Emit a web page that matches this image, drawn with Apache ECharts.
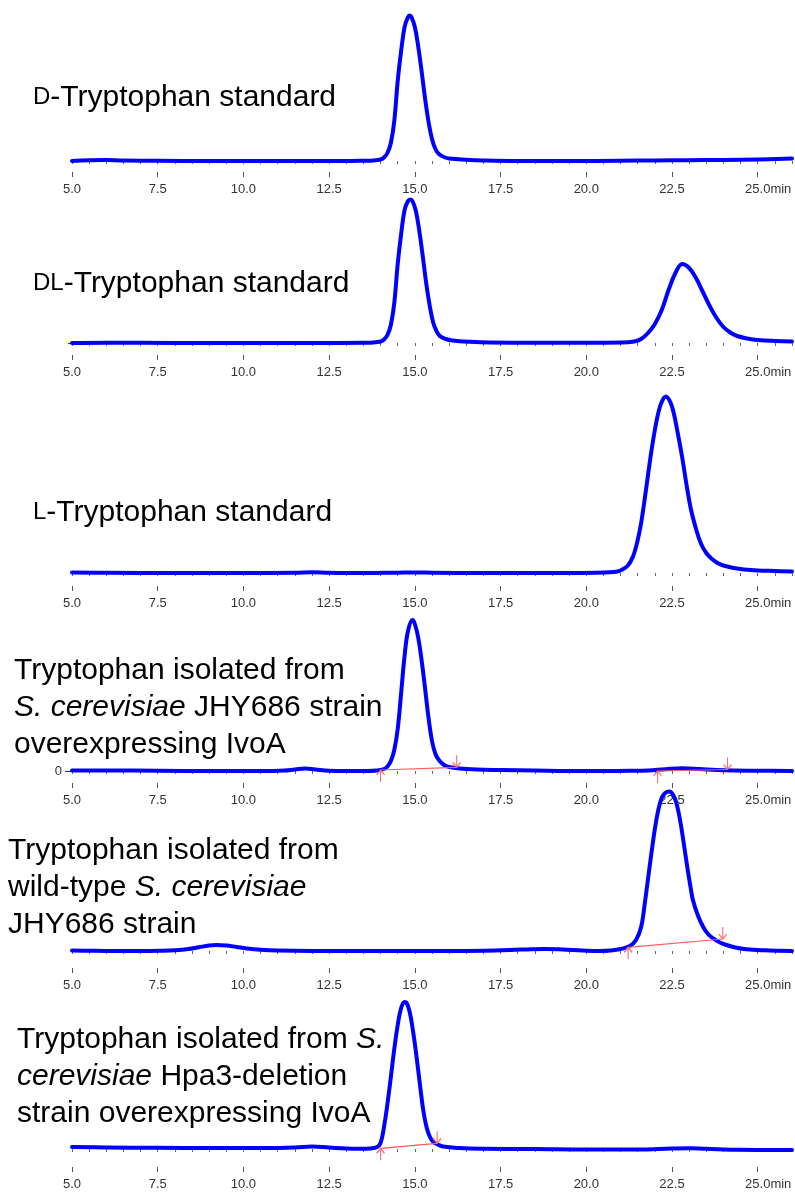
<!DOCTYPE html>
<html>
<head>
<meta charset="utf-8">
<script src="https://cdn.jsdelivr.net/npm/echarts@6/dist/echarts.min.js"></script>
<style>
html, body { margin: 0; padding: 0; background: #fff; }
#chart { width: 795px; height: 1192px; }
</style>
</head>
<body>
<div id="chart"></div>
<script>
// retention time (min) vs detector signal
var dStandard = [[5.0,0],[5.5,0.8],[6.0,1.0],[6.5,0.5],[7.5,0.3],[9.0,0],[10.5,0],[12.0,0],[13.0,0],[13.5,0.3],[13.8,0.6],[14.0,1.5],[14.1,3.5],[14.2,8],[14.3,18],[14.4,40],[14.5,80],[14.6,110],[14.7,134],[14.8,144],[14.85,145.5],[14.9,144],[15.0,134],[15.1,114],[15.2,89],[15.3,62],[15.4,39],[15.5,22],[15.6,12],[15.7,7],[15.85,4],[16.0,2.5],[16.5,1.2],[17.0,0.5],[18.0,0],[19.5,0],[21.0,0.3],[22.0,0.5],[23.0,0.8],[24.0,1.0],[25.0,1.5],[26.0,2.5]];
var dlStandard = [[5.0,0],[6.0,0.3],[8.0,0],[10.0,0],[12.0,0],[13.5,0.3],[13.8,0.6],[14.0,1.5],[14.1,3.5],[14.2,8],[14.3,18],[14.4,40],[14.5,79],[14.6,109],[14.7,133],[14.8,142],[14.87,143.5],[14.93,142],[15.03,132],[15.13,112],[15.23,87],[15.33,60],[15.43,38],[15.53,21],[15.63,12],[15.73,7],[15.9,4],[16.1,2.5],[16.6,1.2],[17.2,0.5],[18.5,0.3],[20.0,0.3],[21.0,0.5],[21.4,1.5],[21.6,4],[21.8,10],[22.0,19],[22.2,33],[22.4,53],[22.6,70],[22.8,79],[23.0,75],[23.2,65],[23.4,51],[23.6,37],[23.8,25],[24.0,16],[24.2,10.5],[24.4,7],[24.7,4.5],[25.0,3],[25.5,2],[26.0,1.5]];
var lStandard = [[5.0,0.5],[6.0,0.3],[8.0,0],[10.0,0],[11.5,0.3],[12.0,0.8],[12.5,0.3],[13.5,0],[14.5,0.3],[15.0,0.5],[15.5,0.3],[17.0,0],[18.5,0],[19.5,0],[20.3,0.3],[20.7,0.8],[20.9,1.5],[21.0,2.5],[21.1,4.5],[21.2,7],[21.3,12],[21.4,20],[21.5,33],[21.6,50],[21.7,73],[21.8,98],[21.9,122],[22.0,143],[22.1,160],[22.2,171],[22.32,176.5],[22.45,171],[22.55,160],[22.65,143],[22.8,115],[22.92,89],[23.05,64],[23.21,43],[23.35,29],[23.5,20],[23.65,14.5],[23.83,10],[24.0,7.5],[24.3,5],[24.6,3.5],[25.0,2.5],[25.5,2],[26.0,1.5]];
var ivoaStrain = [[5.0,0.5],[6.0,0.5],[7.5,0.3],[9.0,0],[10.5,0],[11.2,0.5],[11.5,1.5],[11.8,2.5],[12.1,1.5],[12.5,0.3],[13.0,0],[13.6,0],[13.9,0.5],[14.1,2],[14.2,4.5],[14.3,10],[14.4,21],[14.5,42],[14.6,78],[14.7,115],[14.8,140],[14.93,151],[15.0,147],[15.1,133],[15.2,110],[15.3,82],[15.4,53],[15.5,30],[15.6,17],[15.7,11],[15.85,6],[16.0,4],[16.3,2.5],[16.8,1.5],[17.5,1],[18.5,0.5],[19.5,0],[20.5,0],[21.3,0.2],[21.8,0.6],[22.3,1.8],[22.8,2.7],[23.3,2],[23.8,1],[24.3,0.5],[25.0,0.3],[26.0,0]];
var wildType = [[5.0,0.5],[5.5,0.3],[6.0,0],[7.0,0],[7.6,0.3],[8.0,0.8],[8.4,2],[8.7,3.8],[9.0,5.5],[9.2,6],[9.5,5.5],[9.8,4],[10.1,2.5],[10.5,1.2],[11.0,0.4],[12.0,0],[13.0,0],[14.0,0],[15.0,0],[16.0,0],[17.0,0.3],[17.8,1],[18.4,1.8],[18.8,2],[19.3,1.5],[19.9,0.5],[20.4,0],[20.7,0.5],[21.0,2],[21.27,5],[21.45,11],[21.6,24],[21.7,46],[21.8,72],[21.9,98],[22.0,122],[22.1,141],[22.2,153],[22.3,158],[22.42,159.5],[22.55,155],[22.65,145],[22.75,128],[22.85,106],[22.95,83],[23.05,62],[23.11,51],[23.25,36],[23.41,24],[23.55,17],[23.7,12.7],[23.9,8.5],[24.09,6],[24.35,3.5],[24.67,1.7],[25.2,0.7],[26.0,0]];
var hpa3Deletion = [[5.0,2],[6.0,1.5],[7.5,1.2],[9.0,1],[10.5,1],[11.5,1.5],[12.0,2.5],[12.5,1.5],[13.0,0.5],[13.4,0.3],[13.7,0.5],[13.9,2],[14.0,6],[14.1,22],[14.2,45],[14.3,72],[14.4,100],[14.5,124],[14.6,141],[14.7,147],[14.76,146],[14.85,137],[14.95,117],[15.05,92],[15.15,64],[15.24,40],[15.34,22],[15.44,12],[15.54,7],[15.67,4.5],[15.82,2.5],[16.3,1],[17.0,0.3],[18.5,0],[20.0,-0.5],[21.5,-0.5],[22.5,0.5],[23.0,0.8],[23.5,0.2],[24.5,-0.8],[26.0,-1]];

// integration baselines (start, end)
var ivoaCut1 = [[14.0,1],[16.22,3.7]];
var ivoaCut2 = [[22.08,0],[24.12,1.5]];
var wildCut = [[21.22,3.7],[23.98,12]];
var hpa3Cut = [[14.0,0.7],[15.65,5.7]];

var majorTicks = [5, 7.5, 10, 12.5, 15, 17.5, 20, 22.5, 25];
var panelTitles = [
  '{sc|D}-Tryptophan standard',
  '{sc|DL}-Tryptophan standard',
  '{sc|L}-Tryptophan standard',
  'Tryptophan isolated from\n{i|S. cerevisiae} JHY686 strain\noverexpressing IvoA',
  'Tryptophan isolated from\nwild-type {i|S. cerevisiae}\nJHY686 strain',
  'Tryptophan isolated from {i|S.}\n{i|cerevisiae} Hpa3-deletion\nstrain overexpressing IvoA'
];
var traces = [dStandard, dlStandard, lStandard, ivoaStrain, wildType, hpa3Deletion];
var cuts = [[], [], [], [ivoaCut1, ivoaCut2], [wildCut], [hpa3Cut]];

// layout in px
var baseY = [161, 343, 573, 771, 951, 1149];
var plotH = [151, 153, 183, 156, 166, 154];
var axisOffset = [11, 12, 13, 12, 17, 18];
var titlePos = [[33, 79], [33, 265], [33, 494], [14, 652], [8, 832], [17, 1021]];

var FONT = 'Liberation Sans, Arial, sans-serif';
var arrowUp = 'path://M4,0L0,5M4,0L8,5M4,0L4,12';
var arrowDown = 'path://M4,12L0,7M4,12L8,7M4,12L4,0';

var chart = echarts.init(document.getElementById('chart'));

var grids = [], xAxes = [], yAxes = [], series = [], titles = [];

for (var i = 0; i < 6; i++) {
  grids.push({ left: 72, right: 3, top: baseY[i] - plotH[i], height: plotH[i] });

  // minor ticks + labels
  xAxes.push({
    type: 'value', gridIndex: i, min: 5, max: 26, interval: 0.5,
    position: 'bottom', offset: axisOffset[i],
    axisLine: { show: false },
    axisTick: { length: 3, lineStyle: { color: '#666', width: 1 } },
    splitLine: { show: false },
    axisLabel: {
      customValues: majorTicks, margin: 11,
      fontFamily: FONT, fontSize: 13, color: '#333',
      formatter: function (v) {
        var s = v.toFixed(1);
        return v === 25 ? '{p| }' + s + '{m|min}' : s;
      },
      rich: {
        p: { width: 21, fontSize: 13 },
        m: { fontFamily: FONT, fontSize: 13, color: '#333' }
      }
    }
  });
  // longer major ticks
  xAxes.push({
    type: 'value', gridIndex: i, min: 5, max: 26, interval: 2.5,
    position: 'bottom', offset: axisOffset[i],
    axisLine: { show: false },
    axisTick: { length: 5, customValues: majorTicks, lineStyle: { color: '#555', width: 1 } },
    axisLabel: { show: false },
    splitLine: { show: false }
  });

  var yAx = {
    type: 'value', gridIndex: i, min: 0, max: plotH[i],
    axisLine: { show: false }, splitLine: { show: false },
    axisTick: { show: false }, axisLabel: { show: false }
  };
  if (i === 3) {
    yAx.axisTick = { show: true, customValues: [0], length: 7, lineStyle: { color: '#333' } };
    yAx.axisLabel = { show: true, customValues: [0], margin: 10, fontFamily: FONT, fontSize: 13, color: '#333' };
  } else if (i === 1) {
    yAx.axisTick = { show: true, customValues: [0], length: 4, lineStyle: { color: '#333' } };
  }
  yAxes.push(yAx);

  series.push({
    type: 'line', xAxisIndex: 2 * i, yAxisIndex: i,
    data: traces[i], showSymbol: false,
    smooth: 0.4, clip: false, silent: true,
    lineStyle: { color: '#0000ff', width: 4, cap: 'round', join: 'round' },
    z: 3
  });

  cuts[i].forEach(function (c) {
    series.push({
      type: 'line', xAxisIndex: 2 * i, yAxisIndex: i,
      data: [
        { value: c[0], symbol: arrowUp, symbolOffset: [0, 6] },
        { value: c[1], symbol: arrowDown, symbolOffset: [0, -6] }
      ],
      showSymbol: true, symbolSize: [8, 12], clip: false, silent: true,
      lineStyle: { color: '#ff5c5c', width: 1.2 },
      itemStyle: { color: 'none', borderColor: '#ff6a6a', borderWidth: 1.3 },
      z: 5
    });
  });

  titles.push({
    text: panelTitles[i], left: titlePos[i][0], top: titlePos[i][1], padding: 0,
    textStyle: {
      fontFamily: FONT, fontSize: 30, fontWeight: 'normal', color: '#000', lineHeight: 37,
      rich: {
        sc: { fontFamily: FONT, fontSize: 24, color: '#000', lineHeight: 37 },
        i: { fontFamily: FONT, fontSize: 30, fontStyle: 'italic', color: '#000', lineHeight: 37 }
      }
    }
  });
}

chart.setOption({
  animation: false,
  backgroundColor: '#fff',
  title: titles,
  grid: grids,
  xAxis: xAxes,
  yAxis: yAxes,
  series: series
});
</script>
</body>
</html>
